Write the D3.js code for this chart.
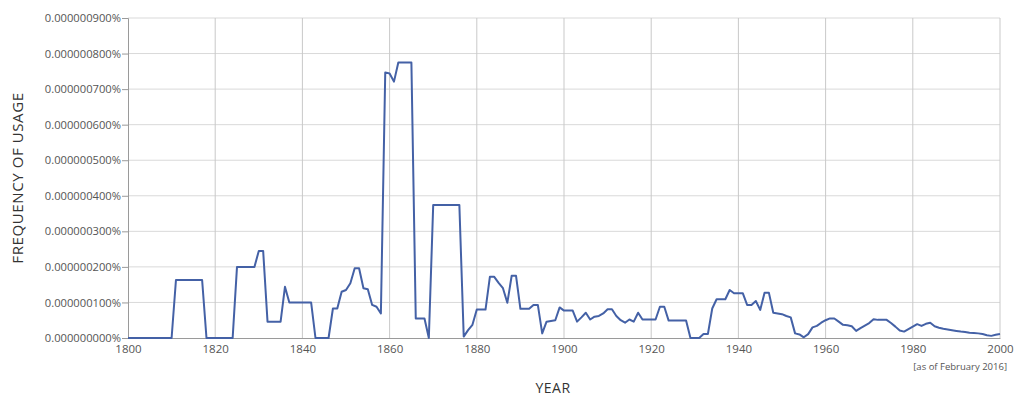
<!DOCTYPE html>
<html><head><meta charset="utf-8">
<script src="https://cdn.jsdelivr.net/npm/d3@7"></script>
<style>
html,body{margin:0;padding:0;background:#fff;}
svg{display:block;}
</style></head>
<body><svg id="chart" width="1016" height="399"></svg>
<script>
// Years 1800..2000, frequency in units of 1e-9 % (100 -> 0.000000100%)
const startYear = 1800;
const endYear = 2000;
const freqValues = [
  0,0,0,0,0,0,0,0,0,0,
  0,163,163,163,163,163,163,163,0,0,
  0,0,0,0,0,200,200,200,200,200,
  245,245,46,46,46,46,144,100,100,100,
  100,100,100,0,0,0,0,83,83,130,
  135,154,196,196,140,137,93,88,69,747,
  744,721,775,775,775,775,55,55,55,0,
  374,374,374,374,374,374,374,4,22,37,
  80,80,80,172,172,155,140,99,175,175,
  82,82,82,93,93,13,46,48,50,86,
  77,77,77,46,58,71,52,60,62,69,
  81,81,62,50,43,52,46,71,52,52,
  52,52,88,88,49,49,49,49,49,0,
  0,0,11,11,83,109,109,109,135,126,
  126,126,93,93,104,79,127,127,71,69,
  67,62,58,13,10,2,11,30,34,43,
  50,55,55,46,37,36,33,20,28,35,
  42,53,51,51,51,42,32,21,18,25,
  32,39,34,40,43,33,29,26,24,22,
  20,18,17,15,14,13,11,8,6,9,
  11
];
const xTicks = [1800,1820,1840,1860,1880,1900,1920,1940,1960,1980,2000];
const yTicks = [0,100,200,300,400,500,600,700,800,900];
const yTitle = "FREQUENCY OF USAGE";
const xTitle = "YEAR";
const note = "[as of February 2016]";

const data = freqValues.map((v,i)=>({year:startYear+i, value:v}));

const svg = d3.select("#chart");
const L = 128, R = 1000, T = 18, B = 338;
const x = d3.scaleLinear().domain([startYear,endYear]).range([L,R]);
const y = d3.scaleLinear().domain([0,900]).range([B,T]);

const font = "'Open Sans', 'DejaVu Sans', sans-serif";

// horizontal grid
svg.append("g").selectAll("line").data(yTicks.filter(d=>d>0)).join("line")
  .attr("x1",L).attr("x2",R).attr("y1",d=>y(d)).attr("y2",d=>y(d))
  .attr("stroke","#d9d9d9").attr("stroke-width",1);
// vertical grid
svg.append("g").selectAll("line").data(xTicks.filter(d=>d>startYear)).join("line")
  .attr("x1",d=>x(d)).attr("x2",d=>x(d)).attr("y1",T).attr("y2",B)
  .attr("stroke","#c9c9c9").attr("stroke-width",1);

// y axis
const yAxis = d3.axisLeft(y).tickValues(yTicks).tickSize(6).tickPadding(1)
  .tickFormat(d=>(d/1e9).toFixed(9)+"%");
const gy = svg.append("g").attr("transform",`translate(${L},0)`).call(yAxis);
gy.select(".domain").attr("stroke","#9a9a9a");
gy.selectAll(".tick line").attr("stroke","#9a9a9a");
gy.selectAll("text").attr("font-family",font).attr("font-size",11.2).attr("fill","#555");

// x axis
const xAxis = d3.axisBottom(x).tickValues(xTicks).tickSize(0).tickPadding(7).tickFormat(d3.format("d"));
const gx = svg.append("g").attr("transform",`translate(0,${B})`).call(xAxis);
gx.select(".domain").attr("stroke","#9a9a9a");
gx.selectAll("text").attr("font-family",font).attr("font-size",11.5).attr("fill","#555");

// line
const line = d3.line().x(d=>x(d.year)).y(d=>y(d.value));
svg.append("path").datum(data).attr("d",line)
  .attr("fill","none").attr("stroke","#4461a6").attr("stroke-width",2)
  .attr("stroke-linejoin","round");

// titles
svg.append("text").attr("transform",`translate(23,${(T+B)/2}) rotate(-90)`)
  .attr("text-anchor","middle").attr("font-family",font).attr("font-size",15)
  .attr("fill","#333").attr("letter-spacing",0.6).text(yTitle);
svg.append("text").attr("x",553).attr("y",393).attr("text-anchor","middle")
  .attr("font-family",font).attr("font-size",14).attr("fill","#333").attr("letter-spacing",0.5).text(xTitle);
svg.append("text").attr("x",1007).attr("y",370).attr("text-anchor","end")
  .attr("font-family",font).attr("font-size",9.5).attr("fill","#555").text(note);
</script></body></html>
